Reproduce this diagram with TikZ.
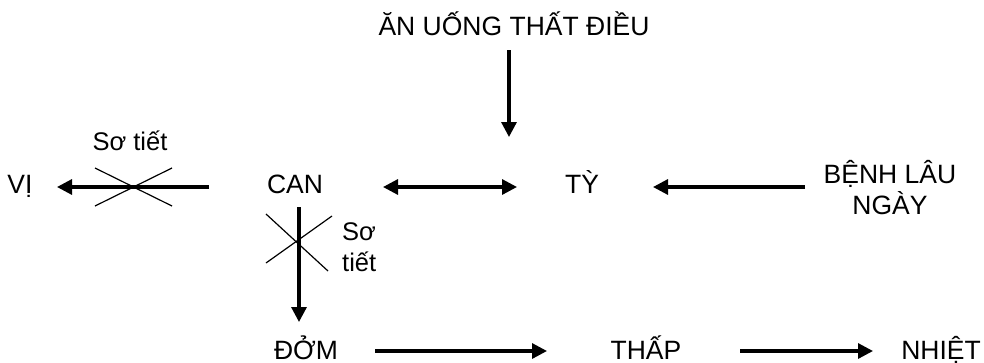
\documentclass[tikz,border=0pt]{standalone}
\usepackage{fontspec}
\setmainfont{Liberation Sans}
\usetikzlibrary{arrows.meta}
\begin{document}
\begin{tikzpicture}[x=1pt,y=-1pt,
  lbl/.style={inner sep=0pt,font=\fontsize{26.5}{31}\selectfont},
  slbl/.style={inner sep=0pt,font=\fontsize{25.5}{31}\selectfont},
  arr/.style={line width=3.2pt,-{Triangle[length=15pt,width=15pt]}},
  darr/.style={line width=3.2pt,{Triangle[length=15pt,width=15pt]}-{Triangle[length=15pt,width=15pt]}},
  crossline/.style={line width=1.2pt}]
\useasboundingbox (0,0) rectangle (984,362);
% nodes
\node[lbl,anchor=base] (AN) at (514,35) {ĂN UỐNG THẤT ĐIỀU};
\node[lbl,anchor=base] (VI) at (20,193) {VỊ};
\node[lbl,anchor=base] (CAN) at (295,193) {CAN};
\node[lbl,anchor=base] (TY) at (582,193) {TỲ};
\node[lbl,align=center] (BL) at (890,188) {BỆNH LÂU\\NGÀY};
\node[lbl,anchor=base] (DOM) at (306,359) {ĐỞM};
\node[lbl,anchor=base] (THAP) at (646,359) {THẤP};
\node[lbl,anchor=base] (NHIET) at (941,359) {NHIỆT};
\node[slbl,anchor=base] (ST1) at (130,150) {Sơ tiết};
\node[slbl,anchor=base west,align=left] (ST2) at (342,271) {Sơ\\tiết};
\coordinate (TYin) at (509,137);
% connectors
\draw[arr] ([xshift=-5pt,yshift=-15pt]AN.base) -- (TYin);
\draw[arr] ([xshift=-86pt,yshift=6pt]CAN.base) -- ([xshift=37pt,yshift=6pt]VI.base);
\draw[darr] ([xshift=88pt,yshift=6pt]CAN.base) -- ([xshift=-65pt,yshift=6pt]TY.base);
\draw[arr] ([xshift=-85pt,yshift=1pt]BL.center) -- ([xshift=71pt,yshift=6pt]TY.base);
\draw[arr] ([xshift=4pt,yshift=-14pt]CAN.base) -- ([xshift=-7pt,yshift=37pt]DOM.base);
\draw[arr] ([xshift=69pt,yshift=8pt]DOM.base) -- ([xshift=-99pt,yshift=8pt]THAP.base);
\draw[arr] ([xshift=94pt,yshift=8pt]THAP.base) -- ([xshift=-68pt,yshift=8pt]NHIET.base);
% crosses
\draw[crossline] (95,168) -- (172,206);
\draw[crossline] (95,206) -- (172,168);
\draw[crossline] (266,214) -- (328,271);
\draw[crossline] (266,263) -- (332,216);
\end{tikzpicture}
\end{document}
